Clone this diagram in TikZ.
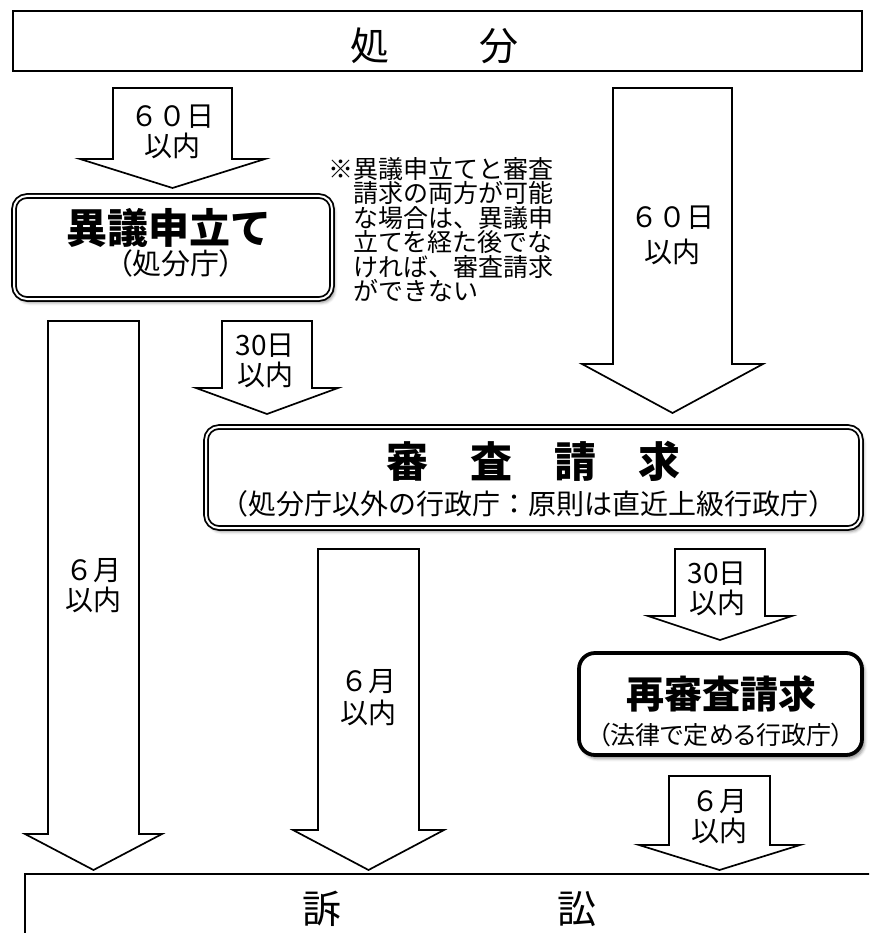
\documentclass[tikz,border=0pt]{standalone}
\usepackage{fontspec}
\setmainfont{Noto Sans CJK JP}
\newfontfamily\paltjp[RawFeature=+palt]{Noto Sans CJK JP}
\usetikzlibrary{shadows.blur}

\newcommand{\sz}[2]{\fontsize{#1}{#2}\selectfont}
\newcommand{\blockarrow}[6]{%
  \draw[arrowline] (#1,#3) -- (#1,#4) -- (#1-#6,#4) -- ({(#1+#2)/2},#5)
    -- (#2+#6,#4) -- (#2,#4) -- (#2,#3) -- cycle;}

\tikzset{
  frame/.style={draw, line width=1.8pt},
  arrowline/.style={draw, fill=white, line width=1.7pt, line join=miter},
  period/.style={font=\sz{28}{30}, align=center, inner sep=0pt},
  softshadow/.style={blur shadow={shadow xshift=2.5pt, shadow yshift=-3.5pt,
      shadow blur radius=3pt, shadow opacity=45}},
  dblbox/.style={draw, double, line width=1.8pt, double distance=2pt,
      rounded corners=13pt, fill=white, softshadow},
  thickbox/.style={draw, line width=3.8pt, rounded corners=16pt, fill=white,
      softshadow},
}

\begin{document}
\begin{tikzpicture}[x=1pt, y=-1pt]
    \useasboundingbox (0,0) rectangle (869,933);
    \clip (0,0) rectangle (869,933);

    \draw [frame, fill=white] (12.7,11) rectangle (862,70.7);
    \node [inner sep=0pt, font=\sz{39}{39}] (shobun) at (434.5,46) {処\hspace{90pt}分};

    \blockarrow{113}{232}{88}{159}{188}{33}
    \node [period] (igi60) at (172,132) {６０日\\以内};

    \blockarrow{613}{732}{88}{364}{413}{31}
    \node [period, font=\sz{28}{35}] (shinsa60) at (672,235.5) {６０日\\以内};

    \node [dblbox, minimum width=318pt, minimum height=103pt] (igi) at (173,247.5) {};
    \node [inner sep=0pt, font=\bfseries\sz{41}{41}] (igititle) at (169,228) {異議申立て};
    \node [inner sep=0pt, font=\paltjp\sz{29}{29}] (igisub) at (176,263) {（処分庁）};

    \node [inner sep=0pt, anchor=north west, align=left, font=\sz{25}{24.5}] (note) at (328,157)
        {※異議申立てと審査\\
         \hspace*{1em}請求の両方が可能\\
         \hspace*{1em}な場合は、異議申\\
         \hspace*{1em}立てを経た後でな\\
         \hspace*{1em}ければ、審査請求\\
         \hspace*{1em}ができない};

    \blockarrow{222}{312}{321}{388}{414}{26}
    \node [period] (shinsa30) at (265,361) {30日\\以内};

    \blockarrow{48}{139}{321}{834}{870}{23}
    \node [period] (sosho6a) at (93,586) {６月\\以内};

    \node [dblbox, minimum width=655pt, minimum height=101pt] (shinsa) at (533.5,477.5) {};
    \node [inner sep=0pt, font=\bfseries\sz{42}{42}] (shinsatitle) at (533.5,461) {審　査　請　求};
    \node [inner sep=0pt, font=\sz{28}{28}] (shinsasub) at (528.5,504)
        {（処分庁以外の行政庁：原則は直近上級行政庁）};

    \blockarrow{318}{419}{549}{830}{870}{25}
    \node [period, font=\sz{28}{32}] (sosho6b) at (368,698) {６月\\以内};

    \blockarrow{675}{765}{549}{616}{640}{27}
    \node [period] (sai30) at (717,588.5) {30日\\以内};

    \node [thickbox, minimum width=283pt, minimum height=102pt] (sai) at (720.5,704) {};
    \node [inner sep=0pt, font=\bfseries\sz{38}{38}] (saititle) at (721,694) {再審査請求};
    \node [inner sep=0pt, font=\paltjp\sz{25}{25}] (saisub) at (721,735) {（法律で定める行政庁）};

    \blockarrow{669}{770}{776}{845}{870}{30}
    \node [period] (sosho6c) at (719,817) {６月\\以内};

    \draw [frame] (25,960) -- (25,874) -- (900,874);
    \node [inner sep=0pt, font=\sz{39}{39}] (sosho) at (449.5,909) {訴\hspace{216pt}訟};
\end{tikzpicture}
\end{document}
